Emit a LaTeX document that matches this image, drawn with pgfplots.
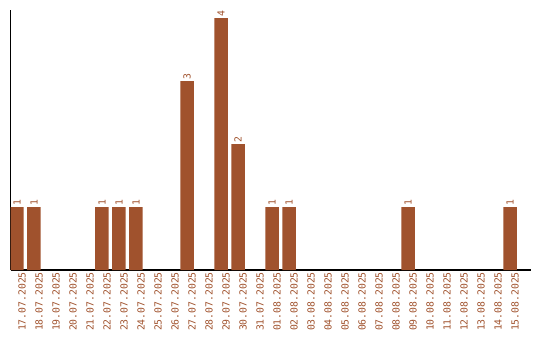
\documentclass[border=0pt]{standalone}
\usepackage{pgfplots}
\pgfplotsset{compat=1.18}
\usepackage{fontspec}
\setmainfont{DejaVu Sans Mono}
\definecolor{sienna}{HTML}{A0522D}
\begin{document}
\begin{tikzpicture}[x=1bp,y=1bp]
\begin{axis}[
  at={(0,0)}, anchor=south west,
  scale only axis,
  width=520bp, height=260bp,
  xmin=-0.38, xmax=30.2,
  ymin=0, ymax=4.127,
  /pgf/number format/assume math mode=true,
  axis x line*=bottom, axis y line*=left,
  axis line style={black, line width=1.1bp, -},
  ytick=\empty,
  xtick={0,...,29},
  xticklabels={17.07.2025,18.07.2025,19.07.2025,20.07.2025,21.07.2025,22.07.2025,23.07.2025,24.07.2025,25.07.2025,26.07.2025,27.07.2025,28.07.2025,29.07.2025,30.07.2025,31.07.2025,01.08.2025,02.08.2025,03.08.2025,04.08.2025,05.08.2025,06.08.2025,07.08.2025,08.08.2025,09.08.2025,10.08.2025,11.08.2025,12.08.2025,13.08.2025,14.08.2025,15.08.2025},
  major tick length=0pt,
  xticklabel style={rotate=90, anchor=east, font=\fontsize{9.8}{10}\selectfont, text=sienna, inner sep=0pt},
  every x tick label/.append style={yshift=-5bp, xshift=-2bp},
  nodes near coords={\pgfmathprintnumber[assume math mode=true]{\pgfplotspointmeta}},
  every node near coord/.append style={rotate=90, anchor=west, font=\fontsize{9.8}{10}\selectfont, text=sienna, inner sep=1.5bp, xshift=-0.5bp},
]
\addplot[ybar, bar width=13.5bp, fill=sienna, draw=none] coordinates {
(0,1) (1,1) (5,1) (6,1) (7,1) (10,3) (12,4) (13,2) (15,1) (16,1) (23,1) (29,1)
};
\end{axis}
\pgfresetboundingbox
\path[use as bounding box] (-10.5bp,-70bp) rectangle (529.5bp,270bp);
\end{tikzpicture}
\end{document}
